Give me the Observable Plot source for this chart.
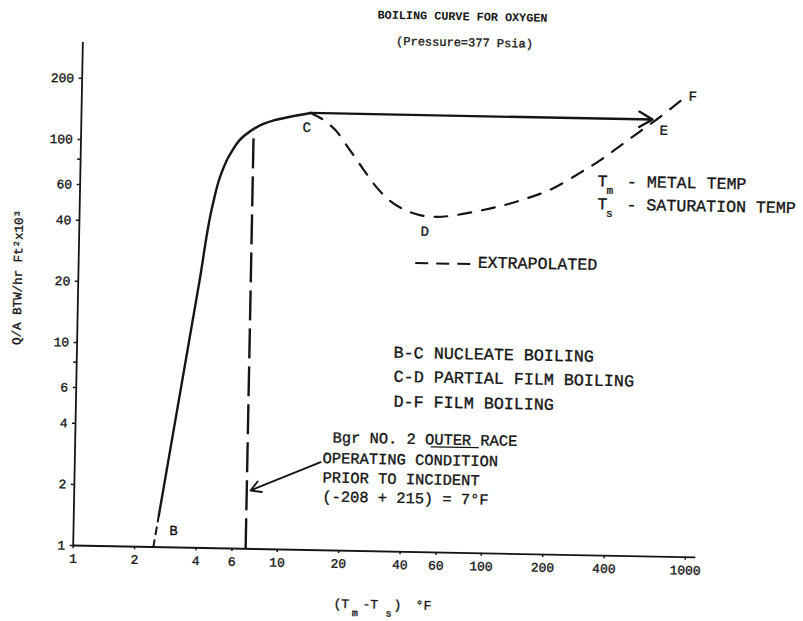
<!DOCTYPE html>
<html><head><meta charset="utf-8">
<script src="https://cdn.jsdelivr.net/npm/d3@7"></script>
<script src="https://cdn.jsdelivr.net/npm/@observablehq/plot@0.6"></script>
<style>
body{margin:0;background:#fff;}
#chart{width:803px;height:621px;overflow:hidden;background:#fff;}
</style></head><body><div id="chart"></div>
<script>
// ---- axis ticks ----
const xTicks = [1, 2, 4, 6, 10, 20, 40, 60, 100, 200, 400, 1000];
const yTicks = [1, 2, 4, 6, 10, 20, 40, 60, 100, 200];
const yMinorTicks = [8, 80];

// ---- nucleate boiling B -> C (solid) ----
const nucleateX = [2.61, 3.93, 4.477, 4.867, 5.424, 6.52, 8.745, 13.26];
const nucleateY = [1.432, 20.76, 48.8, 68.6, 88.3, 111.1, 129.6, 142];
// short extrapolated foot at B
const footX = [2.47, 2.61];
const footY = [1, 1.432];
// C -> D -> E -> F (extrapolated, dashed)
const filmX = [13.26, 15.2, 17.64, 20.52, 24.13, 28.38, 33.34, 39.6, 46.95, 55.6, 65.86, 103.2, 144.6, 202.4, 282.9, 353.6, 441.9, 552, 689.9, 890];
const filmY = [142, 132.5, 117.2, 95.9, 76.7, 61.96, 53.05, 48.07, 45.57, 44.96, 45.59, 50.07, 55.2, 62.9, 76.8, 88.9, 105.2, 124.6, 147.5, 181.8];
// transition C -> E (constant heat flux)
const jumpX = [13.26, 628];
const jumpY = [142, 142];
// operating condition line (7 °F)
const opX = [7];
const opY = [1, 115];

// ---- point labels ----
const pointText = ["B", "C", "D", "E", "F"];
const pointX = [3.092, 12.72, 49.27, 715, 985];
const pointY = [1.212, 120.6, 38.0, 125.9, 186.4];

// ---- regime notes ----
const regimeText = ["B-C NUCLEATE BOILING", "C-D PARTIAL FILM BOILING", "D-F FILM BOILING"];
const regimeX = [35.64, 35.83, 36.0];
const regimeY = [9.57, 7.29, 5.49];

// ---- operating note ----
const noteText = ["Bgr NO. 2 OUTER RACE", "OPERATING CONDITION", "PRIOR TO INCIDENT", "(-208 + 215) = 7°F"];
const noteX = [18.24, 16.37, 16.43, 16.45];
const noteY = [3.602, 2.848, 2.284, 1.841];
const underlineX = [55.5, 95.5];
const underlineY = [3.31];
const noteArrowX = [16.01, 7.31];
const noteArrowY = [2.715, 1.94];

// ---- legend ----
const legendDashX = [44.83, 87.25];
const legendDashY = [26.5];
const legendText = ["EXTRAPOLATED"];
const legendX = [90.2];
const legendY = [27.07];
const symText = ["T", "T"];
const symSub = ["m", "s"];
const symX = [343, 343];
const symY = [69.8, 53.8];
const symDesc = ["- METAL TEMP", "- SATURATION TEMP"];
const symDescX = [477, 477];

// ---- axis titles ----
const xTitleParts = ["(T", "-T", ")", "°F"];
const xTitleX = [19.11, 26.51, 37.63, 48.24];
const xTitleY = 0.548;
const xTitleSub = ["m", "s"];
const xTitleSubX = [23.48, 34.45];
const xTitleSubY = 0.496;
const yTitle = "Q/A BTW/hr Ft²x10³";
const yTitleX = 0.505, yTitleY = 20.64;
const title = "BOILING CURVE FOR OXYGEN";
const subtitle = "(Pressure=377 Psia)";

const ink = "#151515";
const font = "Liberation Mono, DejaVu Sans Mono, monospace";
const zip = (xs, ys) => xs.map((x, i) => ({x, y: ys[i]}));
const blank = () => "";
// typewriter ink: a hairline stroke thickens the glyphs a little
const typed = {fill: ink, stroke: ink, strokeWidth: 0.35};

const plot = Plot.plot({
  width: 803, height: 621,
  marginLeft: 72.7, marginRight: 107.5, marginTop: 42, marginBottom: 76,
  x: {type: "log", domain: [1, 1126]},
  y: {type: "log", domain: [1, 300]},
  style: {fontFamily: font, color: ink, background: "#fff", overflow: "visible"},
  marks: [
    // axes: tick marks from the library, labels as text on the same scales
    Plot.axisX(xTicks, {tickFormat: blank, tickSize: 3, label: null, strokeWidth: 1.5}),
    Plot.axisY(yTicks, {tickFormat: blank, tickSize: 3, label: null, strokeWidth: 1.5}),
    Plot.axisY(yMinorTicks, {tickFormat: blank, tickSize: 3, label: null, strokeWidth: 1.5}),
    Plot.text(xTicks, {x: d => d, frameAnchor: "bottom", lineAnchor: "top", dy: 8, text: d => String(d), fontSize: 13, ...typed}),
    Plot.text(yTicks, {y: d => d, frameAnchor: "left", textAnchor: "end", dx: -8, text: d => String(d), fontSize: 13, ...typed}),
    Plot.ruleX([1], {stroke: ink, strokeWidth: 1.8}),
    Plot.ruleY([1], {stroke: ink, strokeWidth: 1.8}),
    // curves
    Plot.line(zip(nucleateX, nucleateY), {x: "x", y: "y", curve: "monotone-y", stroke: ink, strokeWidth: 2.4}),
    Plot.line(zip(footX, footY), {x: "x", y: "y", stroke: ink, strokeWidth: 2, strokeDasharray: "7,6"}),
    Plot.line(zip(filmX, filmY), {x: "x", y: "y", curve: "catmull-rom", stroke: ink, strokeWidth: 2.2, strokeDasharray: "13,11"}),
    Plot.arrow([0], {x1: jumpX[0], y1: jumpY[0], x2: jumpX[1], y2: jumpY[1], stroke: ink, strokeWidth: 2.3, headLength: 10}),
    Plot.ruleX(opX, {y1: opY[0], y2: opY[1], stroke: ink, strokeWidth: 2.4, strokeDasharray: "30,8"}),
    // annotations
    Plot.text(pointText, {x: pointX, y: pointY, text: d => d, fontSize: 14, ...typed}),
    Plot.text(regimeText, {x: regimeX, y: regimeY, text: d => d, textAnchor: "start", fontSize: 16.7, ...typed}),
    Plot.text(noteText, {x: noteX, y: noteY, text: d => d, textAnchor: "start", fontSize: 15.4, letterSpacing: "0.5px", ...typed}),
    Plot.ruleY(underlineY, {x1: underlineX[0], x2: underlineX[1], stroke: ink, strokeWidth: 1.3}),
    Plot.arrow([0], {x1: noteArrowX[0], y1: noteArrowY[0], x2: noteArrowX[1], y2: noteArrowY[1], stroke: ink, strokeWidth: 1.9, headLength: 9}),
    Plot.ruleY(legendDashY, {x1: legendDashX[0], x2: legendDashX[1], stroke: ink, strokeWidth: 2, strokeDasharray: "13,8"}),
    Plot.text(legendText, {x: legendX, y: legendY, text: d => d, textAnchor: "start", fontSize: 16.6, ...typed}),
    Plot.text(symText, {x: symX, y: symY, text: d => d, textAnchor: "start", fontSize: 16.6, ...typed}),
    Plot.text(symSub, {x: symX, y: symY, text: d => d, textAnchor: "start", fontSize: 11, dx: 9, dy: 9, ...typed}),
    Plot.text(symDesc, {x: symDescX, y: symY, text: d => d, textAnchor: "start", fontSize: 16.6, ...typed}),
    // axis titles
    Plot.text(xTitleParts, {x: xTitleX, y: () => xTitleY, text: d => d, textAnchor: "start", fontSize: 13, ...typed}),
    Plot.text(xTitleSub, {x: xTitleSubX, y: () => xTitleSubY, text: d => d, textAnchor: "start", fontSize: 10, ...typed}),
    Plot.text([yTitle], {x: () => yTitleX, y: () => yTitleY, text: d => d, rotate: -90, fontSize: 12.5, ...typed}),
    Plot.text([title], {frameAnchor: "top", lineAnchor: "middle", dx: 67.7, dy: -33.5, text: d => d, fontSize: 11.8, fontWeight: "bold", letterSpacing: "-0.5px", fill: ink}),
    Plot.text([subtitle], {frameAnchor: "top", lineAnchor: "middle", dx: 70.2, dy: -7.5, text: d => d, fontSize: 12, ...typed})
  ]
});
// the scanned original sits about 1.1° askew on the page
plot.style.transformOrigin = "72.7px 545px";
plot.style.transform = "rotate(1.1deg)";
document.getElementById("chart").appendChild(plot);
</script></body></html>
